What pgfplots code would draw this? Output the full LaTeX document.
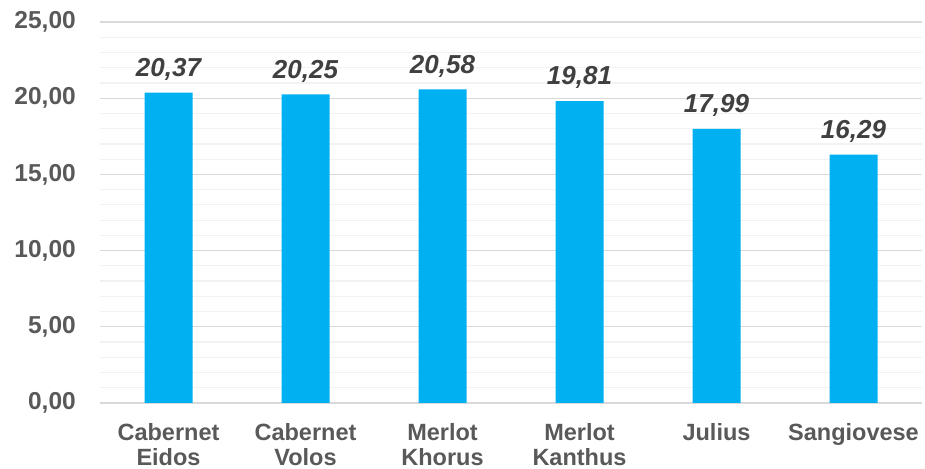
\documentclass[border=0pt]{standalone}
\usepackage{fontspec}
\setmainfont{Liberation Sans}
\usepackage{pgfplots}
\pgfplotsset{compat=1.18}
\definecolor{barblue}{HTML}{00B0F0}
\definecolor{ticktext}{HTML}{595959}
\definecolor{valtext}{HTML}{404040}
\definecolor{majgrid}{HTML}{D9D9D9}
\definecolor{mingrid}{HTML}{F2F2F2}

\begin{document}
\begin{tikzpicture}
  \begin{axis}[
    name=ax,
    width=822pt, height=381pt,
    scale only axis,
    ybar, bar width=48pt,
    xmin=-0.5, xmax=5.5,
    ymin=0, ymax=25,
    xtick=data,
    xticklabels={Cabernet\\Eidos, Cabernet\\Volos, Merlot\\Khorus, Merlot\\Kanthus, Julius, Sangiovese},
    x tick label style={align=center, font=\fontsize{23.5}{25}\selectfont\bfseries, text=ticktext, anchor=north, inner sep=0pt, yshift=-20pt},
    ytick={0,5,...,25},
    minor y tick num=4,
    ymajorgrids, yminorgrids,
    major grid style={draw=majgrid, line width=1.2pt},
    minor grid style={draw=mingrid, line width=1.2pt},
    axis line style={draw=none},
    major tick length=0pt, minor tick length=0pt,
    y tick label style={font=\fontsize{24.5}{26}\selectfont\bfseries, text=ticktext, anchor=east, inner sep=0pt, xshift=-24pt},
    /pgf/number format/.cd, fixed, fixed zerofill, precision=2, use comma, assume math mode=true,
    /pgfplots/.cd,
    nodes near coords,
    every node near coord/.append style={font=\fontsize{26}{28}\selectfont\bfseries\itshape, text=valtext, inner sep=0pt, yshift=12pt},
  ]
    \addplot [fill=barblue, draw=none] coordinates {
      (0, 20.37) (1, 20.25) (2, 20.58) (3, 19.81) (4, 17.99) (5, 16.29)
    };
  \end{axis}
  \pgfresetboundingbox
  \path[use as bounding box] ([xshift=-100pt, yshift=-66pt]ax.south west) rectangle ([xshift=3pt, yshift=22pt]ax.north east);
\end{tikzpicture}
\end{document}
